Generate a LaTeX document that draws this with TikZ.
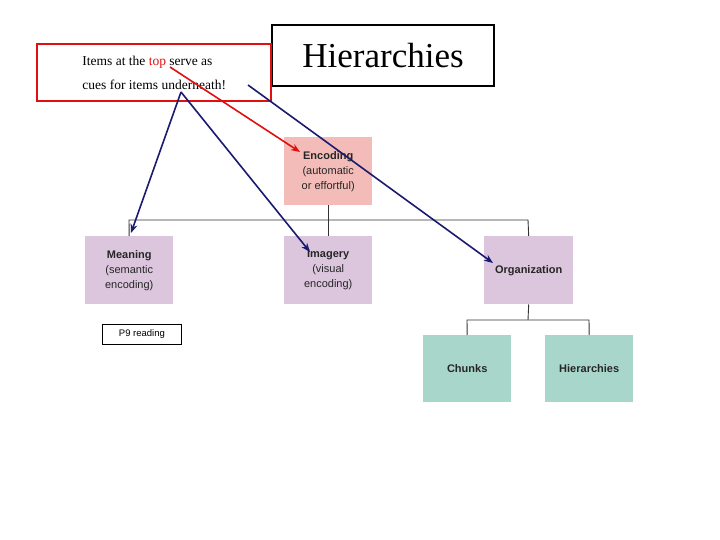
\documentclass[tikz,border=0pt]{standalone}
\usepackage{fontspec}
\setmainfont{Liberation Serif}
\setsansfont{Liberation Sans}
\usetikzlibrary{arrows.meta}
\definecolor{pinkb}{HTML}{F3BCB8}
\definecolor{lilac}{HTML}{DCC6DE}
\definecolor{teal}{HTML}{A9D6CA}
\definecolor{navy}{HTML}{1A1A6E}
\definecolor{redl}{HTML}{E01010}
\tikzset{
 box/.style={anchor=north west,inner sep=0pt,minimum width=88pt,minimum height=68pt,align=center,font=\sffamily\fontsize{11}{15}\selectfont,text=black!85},
 tree/.style={draw=black!80,line width=0.9pt},
 arr/.style={-{Stealth[length=9pt,width=7pt]},line width=1.6pt,draw=navy},
}
\begin{document}
\begin{tikzpicture}[x=1pt,y=-1pt]
\useasboundingbox (0,0) rectangle (720,540);
\node[box,fill=pinkb] (enc) at (284,137) {\textbf{Encoding}\\(automatic\\or effortful)};
\node[box,fill=lilac] (mea) at (85,236) {\textbf{Meaning}\\(semantic\\encoding)};
\node[box,fill=lilac] (ima) at (284,236) {\textbf{Imagery}\\(visual\\encoding)};
\node[box,fill=lilac,minimum width=89pt] (org) at (484,236) {\textbf{Organization}};
\node[box,fill=teal,minimum height=67pt] (chu) at (423,335) {\textbf{Chunks}};
\node[box,fill=teal,minimum height=67pt] (hie) at (545,335) {\textbf{Hierarchies}};
\draw[tree] (enc.south) -- (ima.north);
\draw[tree] (mea.north) -- (129,220) -- (528,220) -- (org.north);
\draw[tree] (org.south) -- (528,320);
\draw[tree] (chu.north) -- (467,320) -- (589,320) -- (hie.north);
\node[draw=black,fill=white,line width=0.8pt,anchor=north west,minimum width=79pt,minimum height=20pt,inner sep=0pt,font=\sffamily\fontsize{9.5}{11}\selectfont] (p9) at (102,324) {P9 reading};
\node[draw=black,fill=white,line width=2.2pt,anchor=north west,minimum width=222pt,minimum height=61pt,inner sep=0pt,font=\fontsize{35}{40}\selectfont] (title) at (271,24) {Hierarchies};
\node[draw=redl,fill=white,line width=2.4pt,anchor=north west,minimum width=234pt,minimum height=57pt,inner sep=0pt,align=left,font=\fontsize{13.5}{24}\selectfont] (note) at (36,43) {Items at the \textcolor{redl}{top} serve as\\cues for items underneath!};
\coordinate (top) at (170,67);
\coordinate (und) at (181,92);
\coordinate (nth) at (248,85);
\draw[arr,draw=redl] (top) -- (300,152);
\draw[arr] (und) -- (131,233);
\draw[arr] (und) -- (310,252);
\draw[arr] (nth) -- (493,263);
\end{tikzpicture}
\end{document}
